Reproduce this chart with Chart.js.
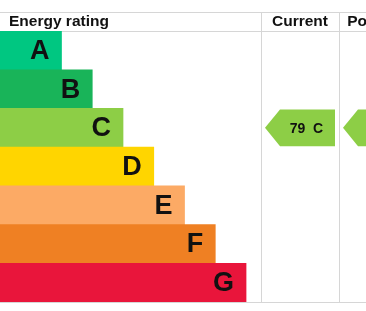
<!DOCTYPE html>
<html lang="en">
<head>
<meta charset="UTF-8">
<title>Energy rating</title>
<script src="https://cdn.jsdelivr.net/npm/chart.js"></script>
<style>
  html, body { margin: 0; padding: 0; background: #fff; }
  #wrap { width: 366px; height: 311px; }
</style>
</head>
<body>
<div id="wrap"><canvas id="epc"></canvas></div>
<script>
// rating bands, top to bottom
const bands = ['A', 'B', 'C', 'D', 'E', 'F', 'G'];
// bar length of each band (arbitrary step units, as on the standard EPC graph)
const bandLengths = [2, 3, 4, 5, 6, 7, 8];
const bandColors = ['#00c781', '#19b459', '#8dce46', '#ffd500', '#fcaa65', '#ef8023', '#e9153b'];

const columnTitles = ['Energy rating', 'Current', 'Potential'];
const currentScore = 79;
const currentBand = 'C';
const potentialScore = 80;   // hidden off the right edge in the reference
const potentialBand = 'C';

const bandColor = b => bandColors[bands.indexOf(b)];

// table frame + letters + rating arrows
const epcTable = {
  id: 'epcTable',
  beforeDraw(chart) {
    const ctx = chart.ctx;
    const area = chart.chartArea;
    const w = chart.width;
    ctx.save();
    ctx.strokeStyle = '#d6d6d6';
    ctx.lineWidth = 1;
    ctx.beginPath();
    [12.5, area.top + 0.5, area.bottom + 0.5].forEach(y => { ctx.moveTo(0, y); ctx.lineTo(w, y); });
    [261.5, 339.5].forEach(x => { ctx.moveTo(x, 12); ctx.lineTo(x, area.bottom); });
    ctx.stroke();

    ctx.fillStyle = '#111';
    ctx.font = 'bold 15.5px "Liberation Sans", Arial, sans-serif';
    ctx.textBaseline = 'middle';
    ctx.textAlign = 'left';
    ctx.fillText(columnTitles[0], 9, 22);
    ctx.textAlign = 'center';
    ctx.fillText(columnTitles[1], 300, 22);
    ctx.fillText(columnTitles[2], 380, 22);
    ctx.restore();
  },
  afterDatasetsDraw(chart) {
    const ctx = chart.ctx;
    const meta = chart.getDatasetMeta(0);
    const yScale = chart.scales.y;
    ctx.save();
    ctx.fillStyle = '#111';
    ctx.font = 'bold 27px "Liberation Sans", Arial, sans-serif';
    ctx.textAlign = 'right';
    ctx.textBaseline = 'middle';
    meta.data.forEach((bar, i) => {
      ctx.fillText(bands[i], bar.x - 12, bar.y + 1);
    });

    const bandH = (yScale.bottom - yScale.top) / bands.length;
    const arrow = (band, score, left, right) => {
      const yc = yScale.getPixelForValue(bands.indexOf(band));
      const top = yc - bandH / 2 + 1;
      const bottom = yc + bandH / 2 - 1;
      const tip = 15;
      ctx.fillStyle = bandColor(band);
      ctx.beginPath();
      ctx.moveTo(left, yc);
      ctx.lineTo(left + tip, top);
      ctx.lineTo(right, top);
      ctx.lineTo(right, bottom);
      ctx.lineTo(left + tip, bottom);
      ctx.closePath();
      ctx.fill();
      ctx.fillStyle = '#111';
      ctx.font = 'bold 14px "Liberation Sans", Arial, sans-serif';
      ctx.textAlign = 'center';
      ctx.fillText(score + '  ' + band, (left + tip + right) / 2 - 1, yc + 1);
    };
    arrow(currentBand, currentScore, 265, 335);
    arrow(potentialBand, potentialScore, 343, 413);
    ctx.restore();
  }
};

new Chart(document.getElementById('epc'), {
  type: 'bar',
  data: {
    labels: bands,
    datasets: [{
      data: bandLengths,
      backgroundColor: bandColors,
      borderWidth: 0,
      barPercentage: 1,
      categoryPercentage: 1
    }]
  },
  options: {
    indexAxis: 'y',
    responsive: true,
    maintainAspectRatio: false,
    animation: false,
    layout: { padding: { top: 31, bottom: 9, left: 0, right: 0 } },
    plugins: { legend: { display: false }, tooltip: { enabled: false } },
    scales: {
      x: { display: false, min: 0, max: 11.9 },
      y: { display: false }
    }
  },
  plugins: [epcTable]
});
</script>
</body>
</html>
